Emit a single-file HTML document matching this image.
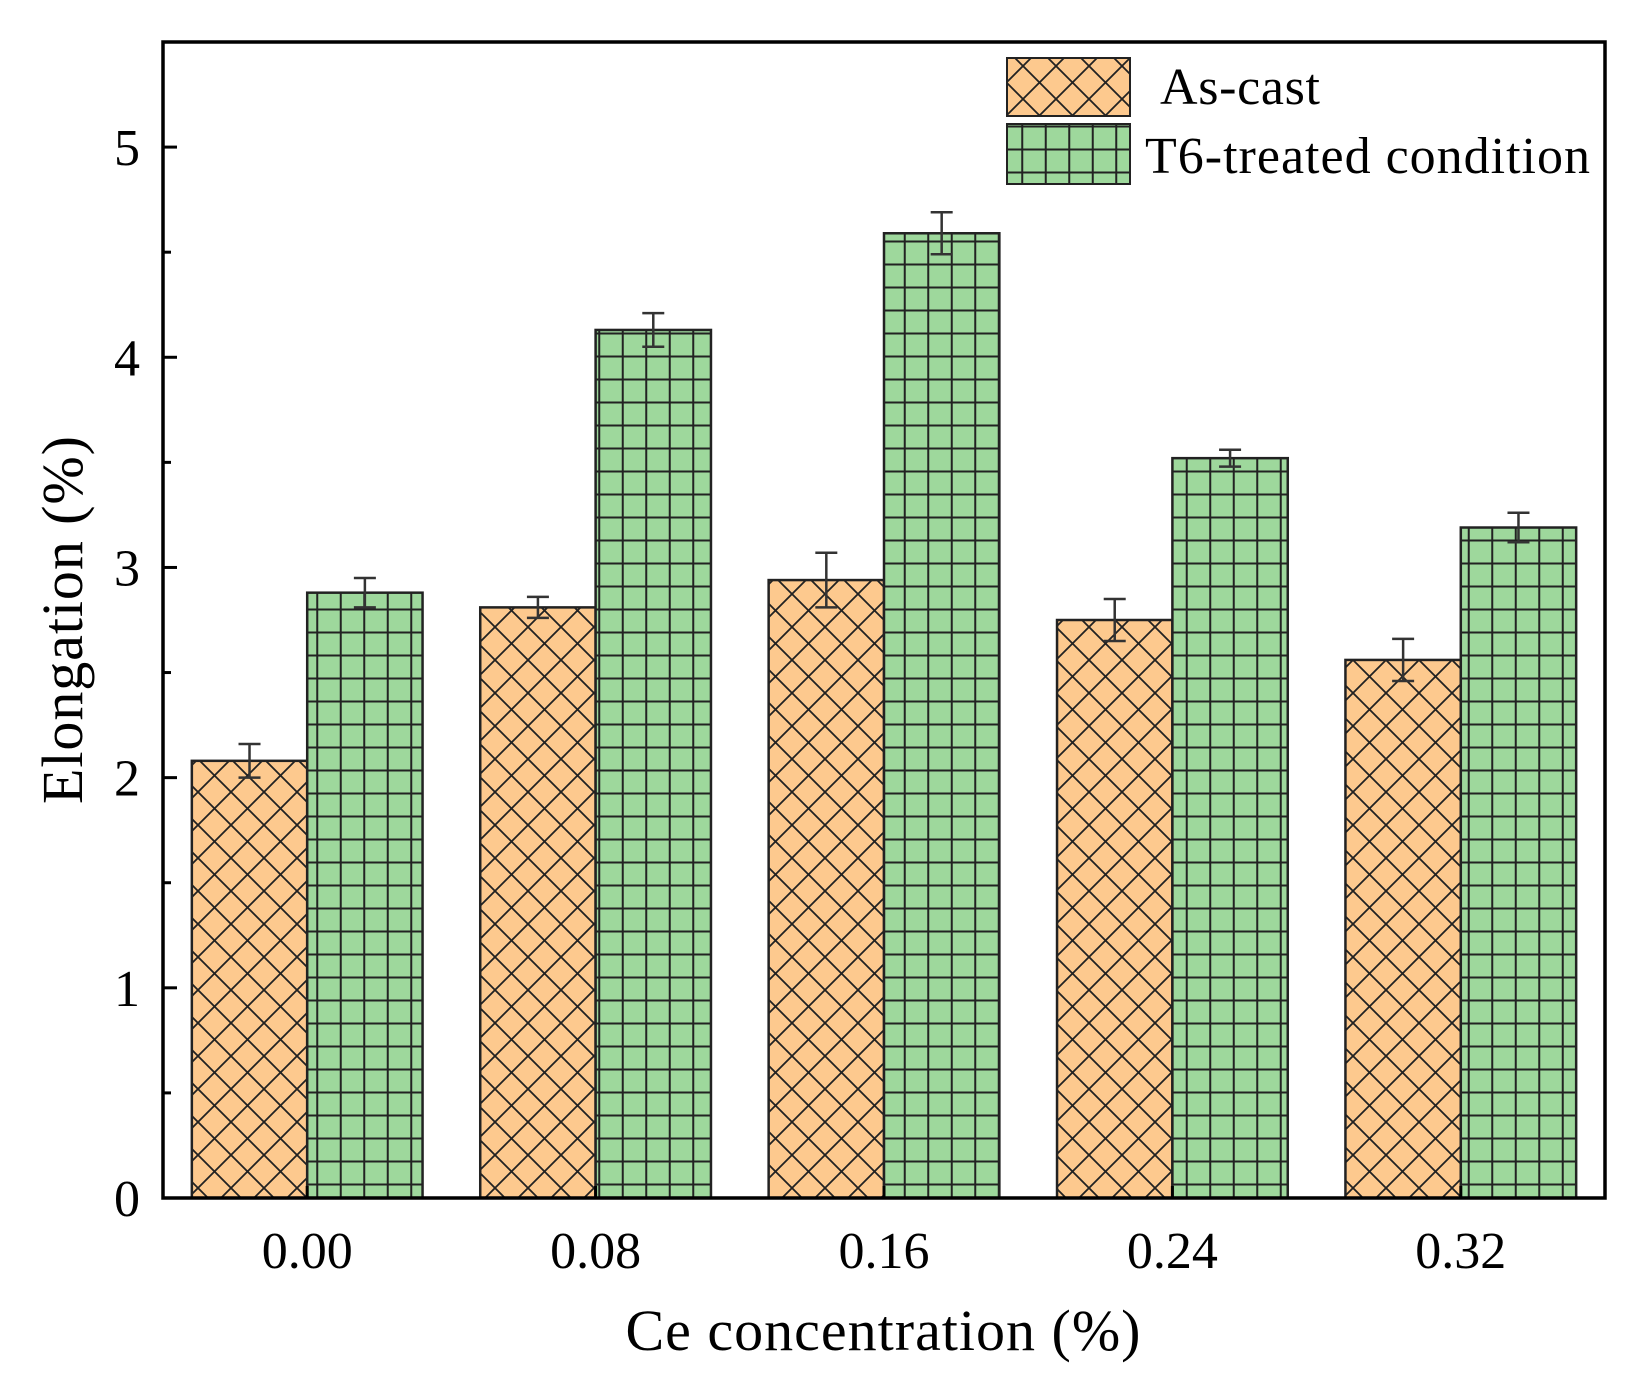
<!DOCTYPE html>
<html><head><meta charset="utf-8"><style>
html,body{margin:0;padding:0;background:#fff;}
svg{display:block;font-family:"Liberation Serif",serif;}
</style></head><body>
<svg id="chart" width="1640" height="1382" viewBox="0 0 1640 1382">
<defs>
<pattern id="cross" patternUnits="userSpaceOnUse" width="33" height="33" x="0" y="0">
<rect width="33" height="33" fill="#fdc98e"/>
<path d="M-1,-1 L34,34 M34,-1 L-1,34" stroke="#222" stroke-width="1.8"/>
</pattern>
<pattern id="grid" patternUnits="userSpaceOnUse" width="23.5" height="23" x="0" y="0">
<rect width="23.5" height="23" fill="#9ed89c"/>
<path d="M0,11.5 H23.5 M11.75,0 V23" stroke="#222" stroke-width="2"/>
</pattern>
</defs>
<g id="bars"></g>
<g id="axes"></g>
<g>
<rect x="1007" y="58" width="123" height="58" fill="url(#cross)" stroke="#222" stroke-width="2"/>
<text x="1160" y="104" font-size="52" textLength="160">As-cast</text>
<rect x="1007" y="124" width="123" height="60" fill="url(#grid)" stroke="#222" stroke-width="2"/>
<text x="1145" y="173" font-size="52" textLength="445">T6-treated condition</text>
</g>
<text x="883" y="1350" font-size="58" text-anchor="middle" textLength="515">Ce concentration (%)</text>
<text transform="translate(82,620) rotate(-90)" font-size="58" text-anchor="middle" textLength="368">Elongation (%)</text>
</svg>
<script>
const categories = ["0.00","0.08","0.16","0.24","0.32"];
const asCast = [2.08, 2.81, 2.94, 2.75, 2.56];
const asCastErr = [0.08, 0.05, 0.13, 0.10, 0.10];
const t6 = [2.88, 4.13, 4.59, 3.52, 3.19];
const t6Err = [0.07, 0.08, 0.10, 0.04, 0.07];
const yTicks = [0,1,2,3,4,5];

const L=163,R=1605,T=42,B=1198,YMAX=5.5;
const NS="http://www.w3.org/2000/svg";
const step=(R-L)/categories.length;
function xc(i){return L+step*(i+0.5);}
function y(v){return B-(v/YMAX)*(B-T);}
const bw=step*0.4;
function mk(tag,attrs,parent){const e=document.createElementNS(NS,tag);for(const k in attrs)e.setAttribute(k,attrs[k]);parent.appendChild(e);return e;}
const bars=document.getElementById('bars'), axes=document.getElementById('axes');
categories.forEach((c,i)=>{
  const cx=xc(i);
  [[asCast,asCastErr,'url(#cross)',cx-bw,'as-cast'],[t6,t6Err,'url(#grid)',cx,'t6']].forEach(([vals,errs,fill,x0,nm])=>{
    const v=vals[i];
    const r=mk('rect',{x:x0,y:y(v),width:bw,height:B-y(v),fill:fill,stroke:'#222','stroke-width':2.5},bars);
    
    
    const ex=x0+bw/2, e=errs[i];
    const g=mk('path',{d:`M${ex},${y(v+e)}V${y(v-e)}M${ex-11},${y(v+e)}H${ex+11}M${ex-11},${y(v-e)}H${ex+11}`,stroke:'#333','stroke-width':2.5,fill:'none'},bars);
    
    
  });
  const t=mk('text',{x:cx,y:1268,'font-size':52,'text-anchor':'middle'},axes);
  t.textContent=c;
  
  
  mk('line',{x1:cx,x2:cx,y1:B,y2:B-12,stroke:'#000','stroke-width':3},axes);
});
for(let v=0;v<=5.01;v+=0.5){
  const major=Math.abs(v-Math.round(v))<1e-6;
  mk('line',{x1:L,x2:L+(major?14:8),y1:y(v),y2:y(v),stroke:'#000','stroke-width':3},axes);
}
yTicks.forEach(v=>{
  const t=mk('text',{x:140,y:y(v)+18,'font-size':52,'text-anchor':'end'},axes);
  t.textContent=v;
  
  
});
const fr=mk('rect',{x:L,y:T,width:R-L,height:B-T,fill:'none',stroke:'#000','stroke-width':3.5},axes);


</script>
</body></html>
